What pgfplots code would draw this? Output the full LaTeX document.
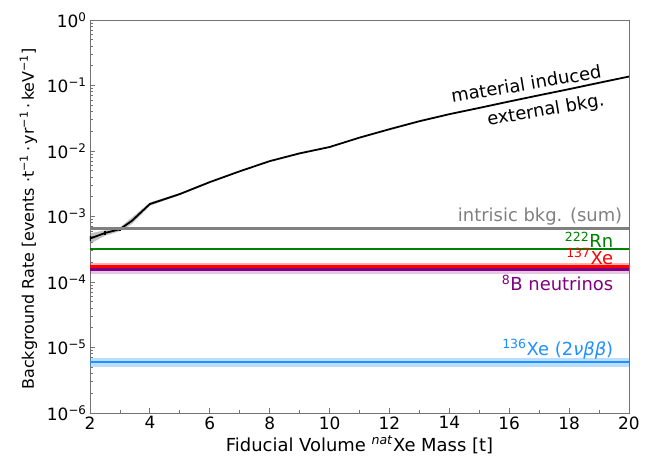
\documentclass[border=0pt]{standalone}
\usepackage{fontspec}
\setmainfont{DejaVu Sans}
\usepackage{pgfplots}
\pgfplotsset{compat=1.18}
\definecolor{dblue}{RGB}{30,144,255}
\definecolor{mpurple}{RGB}{128,0,128}
\definecolor{mgreen}{RGB}{0,128,0}
\definecolor{mgray}{RGB}{128,128,128}
\definecolor{mred}{RGB}{255,0,0}
\begin{document}
\begin{tikzpicture}
\begin{axis}[
  scale only axis, width=539bp, height=393bp,
  ymode=log, xmin=2, xmax=20, ymin=1e-6, ymax=1,
  xtick={2,4,...,20}, minor xtick={3,5,...,19},
  ytick={1e-6,1e-5,1e-4,1e-3,1e-2,1e-1,1},
  yticklabels={10\textsuperscript{−6},10\textsuperscript{−5},10\textsuperscript{−4},10\textsuperscript{−3},10\textsuperscript{−2},10\textsuperscript{−1},10\textsuperscript{0}},
  tick align=inside, tick pos=left,
  major tick length=5bp, minor tick length=3bp,
  axis line style={black!55, line width=0.8bp},
  every tick/.style={black!55, line width=0.8bp},
  ticklabel style={font=\fontsize{17}{20}\selectfont},
  /pgf/number format/assume math mode=true,
  xlabel={Fiducial Volume \textsuperscript{\textit{nat}}Xe Mass [t]},
  ylabel={Background Rate [events ·t\textsuperscript{−1}\,·\,yr\textsuperscript{−1}\,·\,keV\textsuperscript{−1}]},
  xlabel style={font=\fontsize{18}{21}\selectfont, at={(axis description cs:0.5,-0.0967)}, anchor=base},
  ylabel style={font=\fontsize{16}{19}\selectfont, at={(axis description cs:-0.1039,0.494)}, anchor=base},
]
% purple band (8B neutrinos)
\addplot[draw=none, fill=mpurple, fill opacity=0.22] coordinates {(2,1.32e-4) (20,1.32e-4) (20,1.76e-4) (2,1.76e-4)} --cycle;
% red band (137Xe)
\addplot[draw=none, fill=mred, fill opacity=0.3] coordinates {(2,1.58e-4) (20,1.58e-4) (20,1.93e-4) (2,1.93e-4)} --cycle;
% blue band (136Xe)
\addplot[draw=none, fill=dblue, fill opacity=0.3] coordinates {(2,5.0e-6) (20,5.0e-6) (20,6.85e-6) (2,6.85e-6)} --cycle;
% horizontal lines
\addplot[color=mpurple, opacity=1, line width=2.5bp, mark=none] coordinates {(2,1.56e-4) (20,1.56e-4)};
\addplot[color=mred, opacity=1, line width=2.5bp, mark=none] coordinates {(2,1.71e-4) (20,1.71e-4)};
\addplot[color=dblue, opacity=1, line width=1.8bp, mark=none] coordinates {(2,5.95e-6) (20,5.95e-6)};
% material band (upper edge, then lower edge reversed)
\addplot[draw=none, fill=black!55, fill opacity=0.45] coordinates {
(2,5.52e-4) (2.5,6.16e-4) (3,6.85e-4) (3.4,9.63e-4) (4,1.64e-3) (5,2.27e-3) (6,3.45e-3)
(6,3.25e-3) (5,2.14e-3) (4,1.46e-3) (3.4,7.68e-4) (3,5.98e-4) (2.5,5.09e-4) (2,3.83e-4)} --cycle;
% material curve
\addplot[color=black, opacity=1, line width=1.8bp, mark=none, error bars/.cd, y dir=both, y explicit, error mark=none, error bar style={black, line width=1.2bp}] coordinates {
(2,4.6e-4) +- (0,0.4e-4)
(2.5,5.6e-4) +- (0,0.45e-4)
(3,6.4e-4) +- (0,0.45e-4)
(3.4,8.6e-4) +- (0,0)
(4,1.55e-3) +- (0,0)
(5,2.2e-3) +- (0,0)
(6,3.35e-3) +- (0,0)
(7,4.9e-3) +- (0,0)
(8,7.0e-3) +- (0,0)
(9,9.2e-3) +- (0,0)
(10,1.15e-2) +- (0,0)
(11,1.6e-2) +- (0,0)
(12,2.15e-2) +- (0,0)
(13,2.85e-2) +- (0,0)
(14,3.65e-2) +- (0,0)
(15,4.55e-2) +- (0,0)
(16,5.7e-2) +- (0,0)
(17,7.1e-2) +- (0,0)
(18,8.8e-2) +- (0,0)
(19,0.11) +- (0,0)
(20,0.137) +- (0,0)
};
% intrinsic sum and 222Rn lines, drawn last
\addplot[color=mgray, opacity=1, line width=2.4bp, mark=none] coordinates {(2,6.6e-4) (20,6.6e-4)};
\addplot[color=mgreen, opacity=1, draw opacity=1, line width=1.8bp, mark=none] coordinates {(2,3.15e-4) (20,3.15e-4)};
% labels
\node[anchor=base, rotate=9.5, inner sep=0pt, font=\fontsize{18}{21}\selectfont] at (axis cs:16.6,0.0845) {material induced};
\node[anchor=base, rotate=9.5, inner sep=0pt, font=\fontsize{18}{21}\selectfont] at (axis cs:17.25,0.0345) {external bkg.};
\node[anchor=base east, inner sep=0pt, text=mgray, font=\fontsize{18}{21}\selectfont] at (axis cs:19.78,8.3e-4) {intrisic bkg. (sum)};
\node[anchor=base east, inner sep=0pt, text=mgreen, font=\fontsize{18}{21}\selectfont] at (axis cs:19.48,3.38e-4) {\textsuperscript{222}Rn};
\node[anchor=base east, inner sep=0pt, text=mred, font=\fontsize{18}{21}\selectfont] at (axis cs:19.48,1.88e-4) {\textsuperscript{137}Xe};
\node[anchor=base east, inner sep=0pt, text=mpurple, font=\fontsize{18}{21}\selectfont] at (axis cs:19.48,7.29e-5) {\textsuperscript{8}B neutrinos};
\node[anchor=base east, inner sep=0pt, text=dblue, font=\fontsize{18}{21}\selectfont] at (axis cs:19.48,7.68e-6) {\textsuperscript{136}Xe (2\textit{νββ})};
\end{axis}
\pgfresetboundingbox
\path (current axis.south west) ++(-90bp,-46bp) rectangle ([shift={(21bp,20bp)}]current axis.north east);
\end{tikzpicture}
\end{document}
